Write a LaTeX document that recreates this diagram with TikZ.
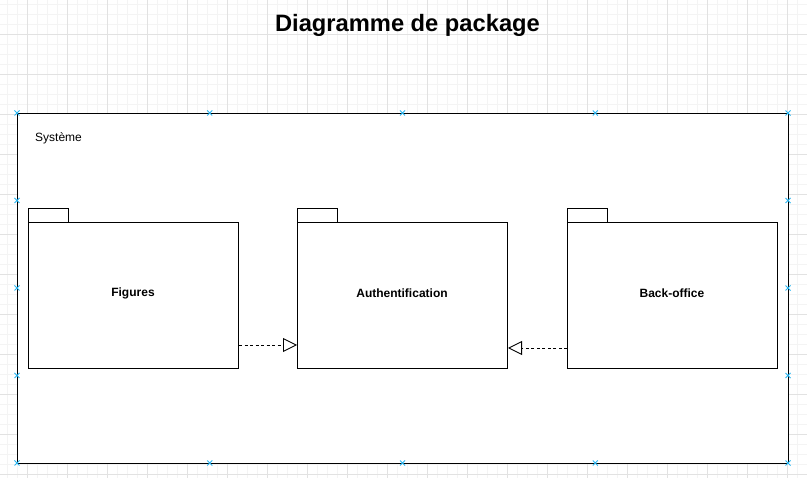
\documentclass[tikz,border=0pt]{standalone}
\usepackage{fontspec}
\setmainfont{Liberation Sans}
\usetikzlibrary{arrows.meta}
\definecolor{gridmajor}{HTML}{E2E2E2}
\definecolor{gridminor}{HTML}{F4F4F4}
\definecolor{handle}{HTML}{29B6F2}
\tikzset{
  pkgbody/.style={draw, line width=1pt, fill=white, minimum width=210pt, minimum height=146pt, inner sep=0pt},
  pkglabel/.style={font=\bfseries\fontsize{12}{14}\selectfont, inner sep=0pt},
  pkgtab/.style={draw, line width=1pt, fill=white, minimum width=40pt, minimum height=14pt, inner sep=0pt},
  dep/.style={line width=0.9pt, dash pattern=on 3pt off 2.5pt, -{Triangle[open, length=14pt, width=14pt, line width=0.9pt]}},
  handlemark/.style={handle, line width=1pt},
}
\begin{document}
\begin{tikzpicture}[x=1pt, y=-1pt]
\useasboundingbox (0,0) rectangle (807,478);
\fill[white] (0,0) rectangle (807,478);
% grid
\foreach \x in {7,17,...,807} \draw[gridminor, line width=1pt] (\x,0) -- (\x,478);
\foreach \y in {5,15,...,478} \draw[gridminor, line width=1pt] (0,\y) -- (807,\y);
\foreach \x in {27,67,...,807} \draw[gridmajor, line width=1pt] (\x,0) -- (\x,478);
\foreach \y in {35,75,...,478} \draw[gridmajor, line width=1pt] (0,\y) -- (807,\y);
% title
\node[font=\bfseries\fontsize{23.7}{27}\selectfont, anchor=center] (title) at (407.5,25) {Diagramme de package};
% system frame
\node[draw, line width=1pt, fill=white, minimum width=771pt, minimum height=350pt, inner sep=0pt, anchor=north west] (sys) at (17,113) {};
\node[font=\fontsize{12}{14}\selectfont, anchor=west, inner sep=0pt] (syslabel) at (35,138) {Système};
% packages
\node[pkgtab, anchor=north west] (figtab) at (28,208) {};
\node[pkgbody, anchor=north west] (fig) at (28,222) {};
\node[pkglabel] (figlabel) at (133,293) {Figures};
\node[pkgtab, anchor=north west] (authtab) at (297,208) {};
\node[pkgbody, anchor=north west] (auth) at (297,222) {};
\node[pkglabel] (authlabel) at (402,293) {Authentification};
\node[pkgtab, anchor=north west] (backtab) at (567,208) {};
\node[pkgbody, anchor=north west] (back) at (567,222) {};
\node[pkglabel] (backlabel) at (672,293) {Back-office};
% dependencies
\draw[dep] ([yshift=24pt]fig.south east) -- ([yshift=24pt]auth.south west);
\draw[dep] ([yshift=21pt]back.south west) -- ([yshift=21pt]auth.south east);
% selection handles
\foreach \x in {17,209.75,402.5,595.25,788} {
  \foreach \y in {113,463} {
    \draw[handlemark] (\x-2.5,\y-2.5) -- (\x+2.5,\y+2.5) (\x-2.5,\y+2.5) -- (\x+2.5,\y-2.5);
  }
}
\foreach \y in {200.5,288,375.5} {
  \foreach \x in {17,788} {
    \draw[handlemark] (\x-2.5,\y-2.5) -- (\x+2.5,\y+2.5) (\x-2.5,\y+2.5) -- (\x+2.5,\y-2.5);
  }
}
\end{tikzpicture}
\end{document}
